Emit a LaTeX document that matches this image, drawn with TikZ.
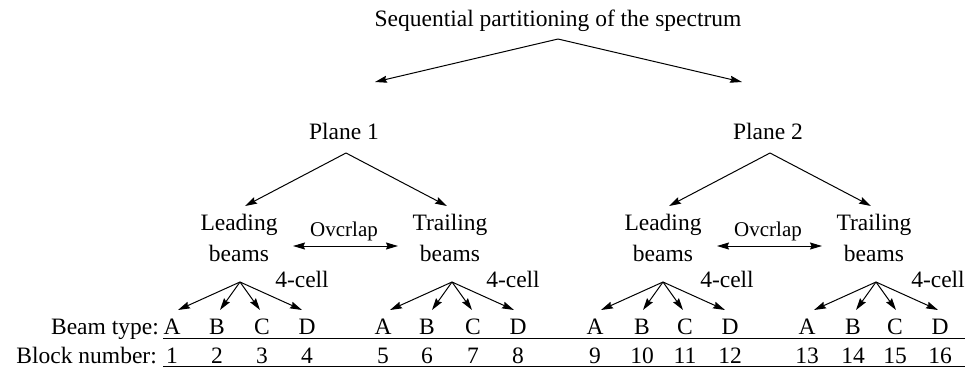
\documentclass[tikz,border=0pt]{standalone}
\usepackage{fontspec}
\setmainfont{Liberation Serif}
\usetikzlibrary{arrows.meta}
\begin{document}
\begin{tikzpicture}[x=1bp,y=-1bp,
  txt/.style={inner sep=0pt,anchor=base,font=\fontsize{23.5bp}{28bp}\selectfont},
  small/.style={inner sep=0pt,anchor=base,font=\fontsize{21bp}{25bp}\selectfont},
  arr/.style={line width=1bp,-{Stealth[length=12bp,width=7bp,inset=1.5bp]}},
  darr/.style={line width=1bp,{Stealth[length=12bp,width=7bp,inset=1.5bp]}-{Stealth[length=12bp,width=7bp,inset=1.5bp]}},
  rule/.style={line width=1bp}]
\useasboundingbox (0,0) rectangle (967,367);
% title
\node[txt] (title) at (558,26) {Sequential partitioning of the spectrum};
\coordinate (t0) at (558,39);
\coordinate (t1) at (375,82);
\coordinate (t2) at (742,82);
\draw[arr] (t0) -- (t1);
\draw[arr] (t0) -- (t2);
% planes
\foreach \p/\dx in {1/0,2/424}{
  \node[txt] (plane\p) at (344+\dx,139) {Plane \p};
  \coordinate (pa\p) at (346+\dx,153);
  \coordinate (pl\p) at (245+\dx,206);
  \coordinate (pr\p) at (447+\dx,206);
  \draw[arr] (pa\p) -- (pl\p);
  \draw[arr] (pa\p) -- (pr\p);
  \node[txt] (lead\p) at (239+\dx,230) {Leading};
  \node[txt] (leadb\p) at (239+\dx,261) {beams};
  \node[txt] (trail\p) at (450+\dx,230) {Trailing};
  \node[txt] (trailb\p) at (450+\dx,261) {beams};
  \node[small] (ov\p) at (344+\dx,236) {Ovcrlap};
  \coordinate (ol\p) at (293+\dx,246);
  \coordinate (or\p) at (398+\dx,246);
  \draw[darr] (ol\p) -- (or\p);
}
% four-cell groups
\foreach \g/\ax/\cx in {1/240/302,2/452/513,3/663/727,4/876/938}{
  \coordinate (ga\g) at (\ax,282);
  \node[txt] (cell\g) at (\cx,287) {4-cell};
  \foreach \k/\o in {1/-62,2/-20,3/20,4/62}{
    \coordinate (gt\g\k) at (\ax+\o,310);
    \draw[arr] (ga\g) -- (gt\g\k);
  }
}
% letters and numbers
\foreach \n/\x/\l in {1/172/A,2/217/B,3/262/C,4/307/D,
                      5/383/A,6/427/B,7/473/C,8/518/D,
                      9/595/A,10/642/B,11/685/C,12/730/D,
                      13/807/A,14/853/B,15/895/C,16/940/D}{
  \node[txt] (bt\n) at (\x,334) {\l};
  \node[txt] (bn\n) at (\x,363) {\n};
}
\node[txt,anchor=base east] (beamlab) at (159,334) {Beam type:};
\node[txt,anchor=base east] (blocklab) at (157,363) {Block number:};
\coordinate (r1a) at (163,338);
\coordinate (r1b) at (965,338);
\coordinate (r2a) at (163,366);
\coordinate (r2b) at (965,366);
\draw[rule] (r1a) -- (r1b);
\draw[rule] (r2a) -- (r2b);
\end{tikzpicture}
\end{document}
